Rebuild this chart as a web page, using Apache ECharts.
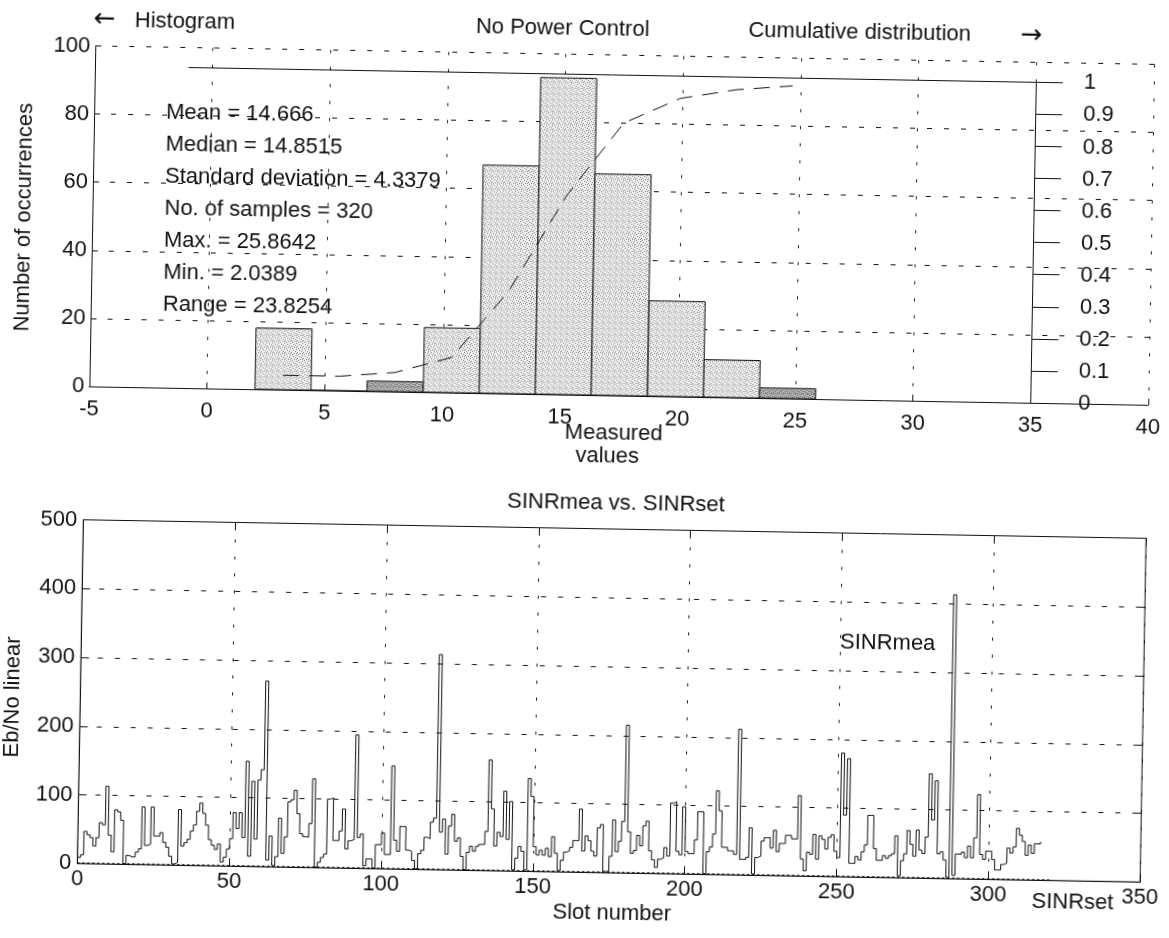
<!DOCTYPE html>
<html>
<head>
<meta charset="utf-8">
<script src="https://cdn.jsdelivr.net/npm/echarts@6/dist/echarts.min.js"></script>
<style>
html, body { margin: 0; padding: 0; background: #fff; overflow: hidden; }
#chart { width: 1169px; height: 938px; transform: rotate(1deg); transform-origin: 584.5px 469px; }
</style>
</head>
<body>
<div id="chart"></div>
<script>
// ---------- Data ----------
// Histogram of measured values (10 bins between Min and Max)
const binCenters = [3.23, 5.61, 7.99, 10.38, 12.76, 15.14, 17.52, 19.91, 22.29, 24.67];
const binCounts  = [18, 0, 3, 19, 67, 93, 65, 28, 11, 3];
const binWidth   = 2.3825;
const darkBins   = [2, 9];
// Cumulative distribution (dashed line, right axis)
const cdfValues  = [0.045, 0.045, 0.06, 0.11, 0.32, 0.62, 0.85, 0.93, 0.96, 0.975];

const statsLines = [
  'Mean = 14.666',
  'Median = 14.8515',
  'Standard deviation = 4.3379',
  'No. of samples = 320',
  'Max. = 25.8642',
  'Min. = 2.0389',
  'Range = 23.8254'
];

// SINRmea per slot (Eb/No linear), stairs
const sinrMea = [
  9,13,47,42,38,26,38,60,57,113,42,18,79,76,64,1,13,11,11,18,23,84,28,30,84,42,42,47,33,26,13,2,4,81,28,33,38,50,59,79,91,76,59,38,30,24,
  32,6,13,25,40,78,55,78,42,153,15,124,40,126,141,270,10,45,2,15,71,20,44,95,98,112,78,49,45,44,64,129,1,8,15,20,100,102,40,40,54,86,28,40,42,194,
  45,50,4,14,14,1,35,35,52,21,21,150,42,26,62,62,28,26,13,1,23,28,47,45,69,75,313,55,74,23,64,81,42,47,20,1,26,35,28,35,38,38,57,161,90,36,
  56,50,116,46,101,2,19,36,29,2,135,109,36,24,31,24,34,22,51,27,2,17,29,31,36,46,46,92,31,53,46,31,24,65,70,2,2,24,77,31,46,75,215,60,29,33,
  55,40,69,76,33,20,9,21,23,38,26,103,105,33,28,98,33,30,30,50,91,91,1,33,40,59,122,93,40,40,35,35,30,212,23,23,26,69,2,26,28,50,55,55,40,66,
  35,47,47,59,59,54,54,117,25,8,35,32,61,25,59,54,40,57,61,37,28,180,90,172,20,20,30,25,37,47,90,90,42,25,25,32,28,32,35,61,3,25,35,69,49,32,
  70,41,36,60,152,85,142,36,39,27,2,413,5,36,36,39,31,48,31,60,123,36,29,41,41,29,14,14,22,24,46,39,48,75,65,56,36,51,39,53,53,56
];
// SINRset reference level (dotted line near zero)
const sinrSetSlots = [0, 320];
const sinrSet      = [1, 1];

// ---------- Styling ----------
const FONT = '"Liberation Sans", Arial, Helvetica, sans-serif';
const INK = '#111';
const FS = 22;
const hDash = [5, 12];
const vDash = [3, 14];

// stippled (printed / scanned) fill patterns for the histogram bars
function stipple(base, dot, dots) {
  const c = document.createElement('canvas');
  c.width = 6; c.height = 6;
  const ctx = c.getContext('2d');
  ctx.fillStyle = base; ctx.fillRect(0, 0, 6, 6);
  ctx.fillStyle = dot;
  dots.forEach(p => ctx.fillRect(p[0], p[1], 1, 1));
  return { image: c, repeat: 'repeat' };
}
const lightFill = stipple('#eeeeee', '#8a8a8a', [[0,0],[3,1],[1,3],[4,4],[2,5],[5,2],[0,4]]);
const darkFill  = stipple('#bdbdbd', '#4a4a4a', [[0,0],[2,0],[4,1],[1,2],[3,3],[5,3],[0,4],[2,5],[4,5]]);

const chart = echarts.init(document.getElementById('chart'), null, { renderer: 'canvas' });

function txt(text, x, y, align, extra, font) {
  return Object.assign({
    type: 'text', x: x, y: y, silent: true,
    style: { text: text, font: font || (FS + 'px ' + FONT), fill: INK, textAlign: align || 'center', textVerticalAlign: 'middle' }
  }, extra || {});
}
const ARROW_FONT = '26px "DejaVu Sans", sans-serif';

const graphics = [
  txt('\u2190', 97, 28, 'center', null, ARROW_FONT),
  txt('Histogram', 127, 29, 'left'),
  txt('No Power Control', 555, 28.5, 'center'),
  txt('Cumulative distribution', 852, 28, 'center'),
  txt('\u2192', 1024, 28, 'center', null, ARROW_FONT),
  txt('Measured', 613, 432.5, 'center'),
  txt('values', 607, 455.5, 'center'),
  txt('Number of occurrences', 20, 227, 'center', { rotation: Math.PI / 2 }),
  txt('SINRmea vs. SINRset', 616.6, 502.5, 'center'),
  txt('Slot number', 619.6, 913, 'center'),
  txt('Eb/No linear', 17, 707, 'center', { rotation: Math.PI / 2 }),
  txt('SINRmea', 843, 638, 'left'),
  txt('SINRset', 1080, 893.5, 'center')
];
statsLines.forEach((s, i) => graphics.push(txt(s, 160, 120.3 + 32 * i, 'left')));

const labelStyle = { fontSize: FS, color: INK, fontFamily: FONT, showMinLabel: true, showMaxLabel: true };

const option = {
  animation: false,
  backgroundColor: '#fff',
  textStyle: { fontFamily: FONT },
  grid: [
    { left: 88, right: 22, top: 54.5, bottom: 543, containLabel: false, outerBoundsMode: 'none' },
    { left: 182, right: 140, top: 74.3, bottom: 543, containLabel: false, outerBoundsMode: 'none' },
    { left: 84.3, right: 21.8, top: 528.5, bottom: 65.7, containLabel: false, outerBoundsMode: 'none',
      show: true, borderColor: INK, borderWidth: 1, backgroundColor: 'transparent' }
  ],
  xAxis: [
    { gridIndex: 0, type: 'value', min: -5, max: 40, interval: 5,
      axisLine: { show: true, onZero: false, lineStyle: { color: INK, width: 1 } },
      axisTick: { show: true, inside: true, length: 6, lineStyle: { color: INK } },
      axisLabel: Object.assign({ margin: 12 }, labelStyle),
      splitLine: { show: true, lineStyle: { color: INK, width: 1, type: vDash } } },
    { gridIndex: 1, type: 'value', min: -1, max: 35, position: 'top',
      axisLine: { show: true, onZero: false, lineStyle: { color: INK, width: 1 } },
      axisTick: { show: false }, axisLabel: { show: false }, splitLine: { show: false } },
    { gridIndex: 2, type: 'value', min: 0, max: 350, interval: 50,
      axisLine: { show: true, onZero: false, lineStyle: { color: INK, width: 1 } },
      axisTick: { show: true, inside: true, length: 8, lineStyle: { color: INK } },
      axisLabel: Object.assign({ margin: 5 }, labelStyle),
      splitLine: { show: true, lineStyle: { color: INK, width: 1, type: vDash } } },
    { gridIndex: 2, type: 'value', min: 0, max: 350, interval: 50, position: 'top',
      axisLine: { show: false, onZero: false },
      axisTick: { show: true, inside: true, length: 8, lineStyle: { color: INK } },
      axisLabel: { show: false }, splitLine: { show: false } }
  ],
  yAxis: [
    { gridIndex: 0, type: 'value', min: 0, max: 100, interval: 20,
      axisLine: { show: true, onZero: false, lineStyle: { color: INK, width: 1 } },
      axisTick: { show: true, inside: true, length: 6, lineStyle: { color: INK } },
      axisLabel: Object.assign({ margin: 5 }, labelStyle),
      splitLine: { show: true, lineStyle: { color: INK, width: 1, type: hDash } } },
    { gridIndex: 1, type: 'value', min: 0, max: 1, interval: 0.1, position: 'right',
      axisLine: { show: true, onZero: false, lineStyle: { color: INK, width: 1 } },
      axisTick: { show: true, inside: false, length: 27, lineStyle: { color: INK } },
      axisLabel: Object.assign({ margin: 48, formatter: v => String(Math.round(v * 10) / 10) }, labelStyle),
      splitLine: { show: false } },
    { gridIndex: 2, type: 'value', min: 0, max: 500, interval: 100,
      axisLine: { show: true, onZero: false, lineStyle: { color: INK, width: 1 } },
      axisTick: { show: true, inside: true, length: 8, lineStyle: { color: INK } },
      axisLabel: Object.assign({ margin: 6 }, labelStyle),
      splitLine: { show: true, lineStyle: { color: INK, width: 1, type: hDash } } },
    { gridIndex: 2, type: 'value', min: 0, max: 500, interval: 100, position: 'right',
      axisLine: { show: false, onZero: false },
      axisTick: { show: true, inside: true, length: 8, lineStyle: { color: INK } },
      axisLabel: { show: false }, splitLine: { show: false } }
  ],
  series: [
    { type: 'custom', xAxisIndex: 0, yAxisIndex: 0, clip: false,
      data: binCenters.map((c, i) => [c, binCounts[i], i]),
      encode: { x: 0, y: 1 },
      renderItem: function (params, api) {
        const c = api.value(0), n = api.value(1), idx = api.value(2);
        const p0 = api.coord([c - binWidth / 2, n]);
        const p1 = api.coord([c + binWidth / 2, 0]);
        return { type: 'rect',
          shape: { x: p0[0], y: p0[1], width: p1[0] - p0[0], height: p1[1] - p0[1] },
          style: { fill: darkBins.indexOf(idx) >= 0 ? darkFill : lightFill, stroke: INK, lineWidth: 1 } };
      } },
    { type: 'line', xAxisIndex: 1, yAxisIndex: 1, showSymbol: false, symbol: 'none',
      data: binCenters.map((c, i) => [c, cdfValues[i]]),
      lineStyle: { color: INK, width: 1, type: [16, 10] } },
    { type: 'line', xAxisIndex: 2, yAxisIndex: 2, step: 'end', showSymbol: false, symbol: 'none',
      data: sinrMea.map((v, i) => [i, v]),
      lineStyle: { color: INK, width: 1 } },
    { type: 'line', xAxisIndex: 2, yAxisIndex: 2, showSymbol: false, symbol: 'none',
      data: sinrSetSlots.map((s, i) => [s, sinrSet[i]]),
      lineStyle: { color: INK, width: 1, type: [2, 3] } }
  ],
  graphic: graphics
};
chart.setOption(option);
</script>
</body>
</html>
